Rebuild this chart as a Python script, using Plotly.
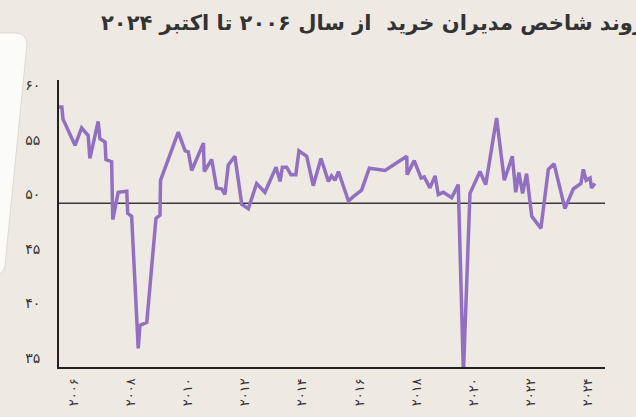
import plotly.graph_objects as go

# =========================================
# DATOS
# =========================================

years = [
    2006.00, 2006.10, 2006.14, 2006.56, 2006.79, 2007.02, 2007.08, 2007.37, 2007.43, 2007.61,
    2007.64, 2007.84, 2007.88, 2008.07, 2008.37, 2008.40, 2008.54, 2008.77, 2008.83, 2009.07,
    2009.39, 2009.53, 2009.55, 2010.17, 2010.41, 2010.52, 2010.64, 2011.05, 2011.08, 2011.34,
    2011.51, 2011.69, 2011.80, 2011.92, 2012.15, 2012.39, 2012.62, 2012.91, 2013.20, 2013.59,
    2013.73, 2013.81, 2013.96, 2014.11, 2014.28, 2014.39, 2014.66, 2014.89, 2015.16, 2015.42,
    2015.53, 2015.65, 2015.77, 2016.12, 2016.29, 2016.47, 2016.58, 2016.85, 2017.16, 2017.40,
    2018.16, 2018.17, 2018.42, 2018.66, 2018.77, 2018.97, 2019.15, 2019.26, 2019.44, 2019.73,
    2019.96, 2020.14, 2020.37, 2020.72, 2020.92, 2021.30, 2021.57, 2021.85, 2021.97, 2022.08,
    2022.21, 2022.35, 2022.53, 2022.85, 2023.11, 2023.31, 2023.69, 2023.98, 2024.25, 2024.33,
    2024.43, 2024.57, 2024.62, 2024.74,
]

pmi = [
    58.8, 58.8, 57.7, 55.3, 56.9, 56.2, 54.1, 57.5, 55.9, 55.6,
    54.0, 53.8, 48.5, 51.0, 51.1, 49.1, 48.8, 36.7, 38.8, 39.1,
    48.6, 48.9, 52.1, 56.5, 54.8, 54.7, 53.0, 55.5, 52.9, 54.0,
    51.4, 51.3, 50.8, 53.5, 54.3, 49.9, 49.5, 51.8, 51.0, 53.3,
    52.0, 53.3, 53.3, 52.6, 52.6, 54.8, 54.3, 51.6, 54.1, 52.0,
    52.5, 52.1, 52.9, 50.2, 50.6, 51.0, 51.2, 53.2, 53.1, 53.0,
    54.3, 52.6, 53.9, 52.3, 52.4, 51.4, 52.5, 50.8, 51.0, 50.5,
    51.7, 34.4, 50.9, 52.9, 51.7, 57.8, 52.1, 54.3, 51.0, 52.8,
    50.9, 52.7, 48.8, 47.7, 53.1, 53.6, 49.5, 51.3, 51.8, 53.1,
    52.1, 52.3, 51.4, 51.8,
]

tick_years = list(range(2006, 2025, 2))
y_ticks = [35, 40, 45, 50, 55, 60]

titulo = "روند شاخص مدیران خرید  از سال ۲۰۰۶ تا اکتبر ۲۰۲۴"

fa = str.maketrans("0123456789", "۰۱۲۳۴۵۶۷۸۹")

# =========================================
# GEOMETRÍA
# =========================================

W, H = 636, 417
L, R, T, B = 59, 31, 80, 50
pw, ph = W - L - R, H - T - B


def paper(x, y):
    # pixel -> coordenadas paper
    return f"{(x - L) / pw:.4f},{(H - B - y) / ph:.4f}"


tarjeta = (
    f"M {paper(-10, 33)} L {paper(17, 33)} Q {paper(26, 34)} {paper(27, 44)} "
    f"L {paper(5, 266)} Q {paper(3, 274)} {paper(-4, 275)} L {paper(-10, 275)} Z"
)

# =========================================
# GRAFICAR
# =========================================

fig = go.Figure()

fig.add_trace(go.Scatter(
    x=years,
    y=pmi,
    mode="lines",
    line=dict(color="#9170c2", width=3.5),
    hoverinfo="skip",
))

fig.add_shape(type="path", path=tarjeta, xref="paper", yref="paper",
              fillcolor="#fbfbfa", line=dict(color="#dcd8d2", width=1), layer="below")

fig.add_shape(type="line", xref="paper", x0=0, x1=1, y0=50, y1=50,
              line=dict(color="#3a3a3a", width=1.5), layer="below")

fig.add_annotation(
    text="<b>" + titulo + "</b>",
    xref="paper", yref="paper",
    x=(647 - L) / pw, y=(H - B - 23) / ph,
    xanchor="right", yanchor="middle",
    showarrow=False,
    font=dict(family="DejaVu Sans", size=21, color="#333333"),
)

fig.update_xaxes(
    range=[2006, 2006 + (605 - 59) / 28.6],
    tickvals=[y + 0.5 for y in tick_years],
    ticktext=[str(y).translate(fa) for y in tick_years],
    tickangle=-90,
    showgrid=False, zeroline=False,
    showline=True, linecolor="#222222", linewidth=2,
    ticks="", ticklabelstandoff=4,
    tickfont=dict(family="DejaVu Sans", size=13, color="#333333"),
    automargin=False,
)

fig.update_yaxes(
    range=[35, 35 + 287 / 10.92],
    tickvals=y_ticks,
    ticktext=[str(v).translate(fa) for v in y_ticks],
    showgrid=False, zeroline=False,
    showline=True, linecolor="#222222", linewidth=2,
    ticks="", ticklabelstandoff=14, ticklabelshift=-9,
    tickfont=dict(family="DejaVu Sans", size=14, color="#333333"),
    automargin=False,
)

fig.update_layout(
    width=W, height=H,
    margin=dict(l=L, r=R, t=T, b=B, autoexpand=False),
    paper_bgcolor="#eeeae3",
    plot_bgcolor="#eeeae3",
    showlegend=False,
)

# sin margen de página del navegador
fig.write_html(
    "out.html",
    config={"displayModeBar": False},
    post_script="document.body.style.margin='0';",
)
